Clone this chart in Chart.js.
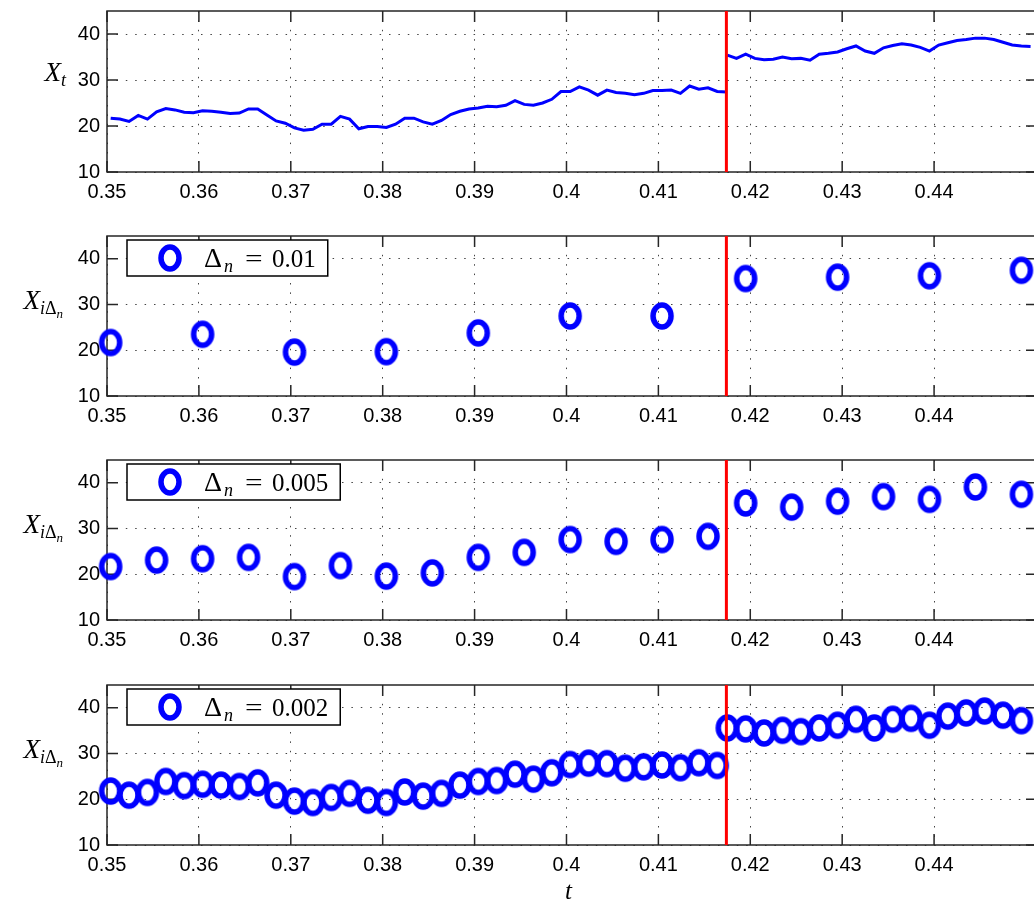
<!DOCTYPE html>
<html><head><meta charset="utf-8">
<script src="https://cdn.jsdelivr.net/npm/chart.js@4.4.1/dist/chart.umd.min.js"></script>
<style>
html,body{margin:0;padding:0;background:#fff;overflow:hidden;}
#wrap{position:relative;width:1034px;height:902px;overflow:hidden;background:#fff;}
#wrap canvas{position:absolute;left:0;}
.lab{position:absolute;font-family:"Liberation Serif",serif;font-style:italic;font-size:27px;line-height:27px;white-space:nowrap;color:#000;text-align:right;}
.lab .s{font-size:18px;position:relative;top:5px;}
.lab .ss{font-size:13px;position:relative;top:4px;}
.lab .up{font-style:normal;}
</style></head>
<body><div id="wrap">
<canvas id="c0" width="1050" height="224" style="top:0px"></canvas>
<canvas id="c1" width="1050" height="224" style="top:224px"></canvas>
<canvas id="c2" width="1050" height="224" style="top:448px"></canvas>
<canvas id="c3" width="1050" height="224" style="top:673px"></canvas>
<div class="lab" style="right:968px;top:59px">X<span class="s">t</span></div>
<div class="lab" style="right:971px;top:287px">X<span class="s">i<span class="up">Δ</span><span class="ss">n</span></span></div>
<div class="lab" style="right:971px;top:511px">X<span class="s">i<span class="up">Δ</span><span class="ss">n</span></span></div>
<div class="lab" style="right:971px;top:736px">X<span class="s">i<span class="up">Δ</span><span class="ss">n</span></span></div>
<div class="lab" style="left:565px;top:877px;font-size:25px;">t</div>
</div>
<script>
// ---- tick values / labels ----
const xTickValues = [0.35, 0.36, 0.37, 0.38, 0.39, 0.40, 0.41, 0.42, 0.43, 0.44];
const xTickLabels = ['0.35', '0.36', '0.37', '0.38', '0.39', '0.4', '0.41', '0.42', '0.43', '0.44'];
const yTickValues = [10, 20, 30, 40];
const xMin = 0.35, xMax = 0.4512, yMin = 10, yMax = 45;
const jumpTime = 0.4174;

// ---- X_t (continuous path) ----
const xtTimes = [
  0.3504,0.3514,0.3524,0.3534,0.3544,0.3554,0.3564,0.3574,0.3584,0.3594,
  0.3604,0.3614,0.3624,0.3634,0.3644,0.3654,0.3664,0.3674,0.3684,0.3694,
  0.3704,0.3714,0.3724,0.3734,0.3744,0.3754,0.3764,0.3774,0.3784,0.3794,
  0.3804,0.3814,0.3824,0.3834,0.3844,0.3854,0.3864,0.3874,0.3884,0.3894,
  0.3904,0.3914,0.3924,0.3934,0.3944,0.3954,0.3964,0.3974,0.3984,0.3994,
  0.4004,0.4014,0.4024,0.4034,0.4044,0.4054,0.4064,0.4074,0.4084,0.4094,
  0.4104,0.4114,0.4124,0.4134,0.4144,0.4154,0.4164,0.4174,
  0.41745,
  0.4175,0.4185,0.4195,0.4205,0.4215,0.4225,0.4235,0.4245,0.4255,0.4265,
  0.4275,0.4285,0.4295,0.4305,0.4315,0.4325,0.4335,0.4345,0.4355,0.4365,
  0.4375,0.4385,0.4395,0.4405,0.4415,0.4425,0.4435,0.4445,0.4455,0.4465,
  0.4475,0.4485,0.4495,0.4505
];
const xtValues = [
  21.7,21.5,21.0,22.3,21.5,23.1,23.8,23.5,23.0,22.9,
  23.3,23.2,23.0,22.7,22.8,23.7,23.7,22.4,21.1,20.6,
  19.6,19.1,19.3,20.4,20.4,22.1,21.5,19.4,19.9,19.9,
  19.7,20.4,21.7,21.7,20.9,20.4,21.2,22.5,23.2,23.7,
  23.9,24.3,24.2,24.5,25.5,24.7,24.5,25.0,25.8,27.5,
  27.5,28.5,27.8,26.7,27.8,27.3,27.1,26.8,27.1,27.7,
  27.7,27.8,27.1,28.7,28.0,28.3,27.5,27.4,
  null,
  35.4,34.7,35.6,34.7,34.4,34.5,35.0,34.6,34.7,34.3,
  35.6,35.8,36.1,36.8,37.4,36.3,35.8,37.0,37.5,37.9,
  37.6,37.1,36.3,37.6,38.1,38.6,38.8,39.1,39.1,38.8,
  38.2,37.6,37.4,37.3
];

// ---- sampled, Δn = 0.01 ----
const s1Times = [0.3504,0.3604,0.3704,0.3804,0.3904,0.4004,0.4104,0.4195,0.4295,0.4395,0.4495];
const s1Values = [21.7,23.5,19.6,19.7,23.8,27.5,27.5,35.7,36.0,36.3,37.5];

// ---- sampled, Δn = 0.005 ----
const s2Times = [0.3504,0.3554,0.3604,0.3654,0.3704,0.3754,0.3804,0.3854,0.3904,0.3954,
  0.4004,0.4054,0.4104,0.4154,0.4195,0.4245,0.4295,0.4345,0.4395,0.4445,0.4495];
const s2Values = [21.7,23.1,23.4,23.7,19.5,21.9,19.6,20.3,23.7,24.8,
  27.6,27.2,27.6,28.3,35.6,34.7,36.0,37.0,36.4,39.1,37.5];

// ---- sampled, Δn = 0.002 ----
const s3Times = [0.3504,0.3524,0.3544,0.3564,0.3584,0.3604,0.3624,0.3644,0.3664,0.3684,
  0.3704,0.3724,0.3744,0.3764,0.3784,0.3804,0.3824,0.3844,0.3864,0.3884,
  0.3904,0.3924,0.3944,0.3964,0.3984,0.4004,0.4024,0.4044,0.4064,0.4084,
  0.4104,0.4124,0.4144,0.4164,
  0.4175,0.4195,0.4215,0.4235,0.4255,0.4275,0.4295,0.4315,0.4335,0.4355,
  0.4375,0.4395,0.4415,0.4435,0.4455,0.4475,0.4495];
const s3Values = [21.8,20.9,21.5,23.9,23.0,23.3,23.1,22.8,23.6,20.9,
  19.6,19.3,20.4,21.3,19.8,19.3,21.6,20.7,21.3,23.1,
  23.9,24.1,25.5,24.4,25.8,27.6,27.9,27.8,26.8,27.1,
  27.5,26.9,28.0,27.4,
  35.6,35.4,34.5,35.1,34.8,35.6,36.2,37.5,35.6,37.5,
  37.7,36.2,38.2,38.9,39.3,38.4,37.2];

const legendTexts = ['0.01', '0.005', '0.002'];

// ---- styling ----
const BLUE = '#0000ff', RED = '#ff0000';
function makeMarker() {
  const c = document.createElement('canvas');
  c.width = 30; c.height = 34;
  const g = c.getContext('2d');
  g.strokeStyle = BLUE; g.lineWidth = 5.5;
  g.beginPath(); g.ellipse(15, 17, 9, 11, 0, 0, Math.PI * 2); g.stroke();
  return c;
}
const marker = makeMarker();

const pts = (ts, vs) => ts.map((t, i) => ({x: t, y: vs[i]}));

const boxPlugin = {
  id: 'matlabBox',
  beforeDatasetsDraw(chart) {
    const ctx = chart.ctx, a = chart.chartArea, xs = chart.scales.x, ys = chart.scales.y;
    const L = 11;
    ctx.save();
    ctx.strokeStyle = '#262626'; ctx.lineWidth = 1.5;
    ctx.beginPath();
    xs.ticks.forEach(t => {
      const p = xs.getPixelForValue(t.value);
      ctx.moveTo(p, a.bottom); ctx.lineTo(p, a.bottom - L);
      ctx.moveTo(p, a.top); ctx.lineTo(p, a.top + L);
    });
    ys.ticks.forEach(t => {
      const p = ys.getPixelForValue(t.value);
      ctx.moveTo(a.left, p); ctx.lineTo(a.left + L, p);
      ctx.moveTo(a.right, p); ctx.lineTo(a.right - L, p);
    });
    ctx.stroke();
    ctx.strokeRect(a.left, a.top, a.right - a.left, a.bottom - a.top);
    ctx.restore();
  }
};

const legendPlugin = {
  id: 'boxLegend',
  afterDatasetsDraw(chart, args, opts) {
    if (!opts || !opts.text) return;
    const ctx = chart.ctx, a = chart.chartArea;
    const left = a.left + 20, top = a.top + 4, h = 36;
    ctx.save();
    ctx.font = '25px "Liberation Serif"';
    const numW = ctx.measureText(opts.text).width;
    const w = 145 + numW + 12;
    ctx.fillStyle = '#fff'; ctx.fillRect(left, top, w, h);
    ctx.lineWidth = 1.5; ctx.strokeStyle = '#000'; ctx.strokeRect(left, top, w, h);
    const cy = top + h / 2;
    ctx.drawImage(marker, left + 43 - marker.width / 2, cy - marker.height / 2);
    ctx.fillStyle = '#000'; ctx.textBaseline = 'alphabetic'; ctx.textAlign = 'left';
    const base = cy + 9;
    ctx.font = '28px "Liberation Serif"'; ctx.fillText('Δ', left + 77, base);
    ctx.font = 'italic 18px "Liberation Serif"'; ctx.fillText('n', left + 97, base + 5);
    ctx.font = '25px "Liberation Serif"';
    ctx.save(); ctx.translate(left + 118, base); ctx.scale(1.25, 1); ctx.fillText('=', 0, 0); ctx.restore();
    ctx.fillText(opts.text, left + 145, base);
    ctx.restore();
  }
};

function makeChart(id, datasets, legendText) {
  return new Chart(document.getElementById(id), {
    type: 'line',
    data: {datasets},
    plugins: [boxPlugin, legendPlugin],
    options: {
      responsive: false, animation: false, events: [], devicePixelRatio: 1,
      layout: {padding: {top: 11, left: 0, right: 13, bottom: 0}},
      plugins: {legend: {display: false}, tooltip: {enabled: false}, boxLegend: {text: legendText}},
      scales: {
        x: {
          type: 'linear', min: xMin, max: xMax,
          afterBuildTicks: s => { s.ticks = xTickValues.map(v => ({value: v})); },
          afterFit: s => { s.height = 52; s.paddingLeft = 0; s.paddingRight = 0; s.paddingTop = 0; s.paddingBottom = 0; },
          ticks: {
            callback: v => xTickLabels[xTickValues.indexOf(v)],
            font: {family: '"Liberation Sans", Arial, sans-serif', size: 20},
            color: '#000', padding: 8, maxRotation: 0, autoSkip: false
          },
          grid: {color: '#444', lineWidth: 1, drawTicks: false},
          border: {display: false, dash: [1.5, 7.9]}
        },
        y: {
          type: 'linear', min: yMin, max: yMax,
          afterBuildTicks: s => { s.ticks = yTickValues.map(v => ({value: v})); },
          afterFit: s => { s.width = 107; s.paddingTop = 0; s.paddingBottom = 0; s.paddingLeft = 0; s.paddingRight = 0; },
          ticks: {
            font: {family: '"Liberation Sans", Arial, sans-serif', size: 20},
            color: '#000', padding: 7
          },
          grid: {color: '#444', lineWidth: 1, drawTicks: false},
          border: {display: false, dash: [1.5, 7.9]}
        }
      }
    }
  });
}

const jumpDs = () => ({
  data: [{x: jumpTime, y: yMin}, {x: jumpTime, y: yMax}],
  borderColor: RED, borderWidth: 3, pointRadius: 0, order: 0
});
const sampleDs = (ts, vs) => ({
  data: pts(ts, vs), showLine: false, pointStyle: marker, pointRadius: 11,
  borderColor: BLUE, backgroundColor: BLUE, order: 1, clip: false
});

makeChart('c0', [
  jumpDs(),
  {data: pts(xtTimes, xtValues), borderColor: BLUE, borderWidth: 3, pointRadius: 0,
   tension: 0, spanGaps: false, order: 1}
], null);
makeChart('c1', [jumpDs(), sampleDs(s1Times, s1Values)], legendTexts[0]);
makeChart('c2', [jumpDs(), sampleDs(s2Times, s2Values)], legendTexts[1]);
makeChart('c3', [jumpDs(), sampleDs(s3Times, s3Values)], legendTexts[2]);
</script>
</body></html>
